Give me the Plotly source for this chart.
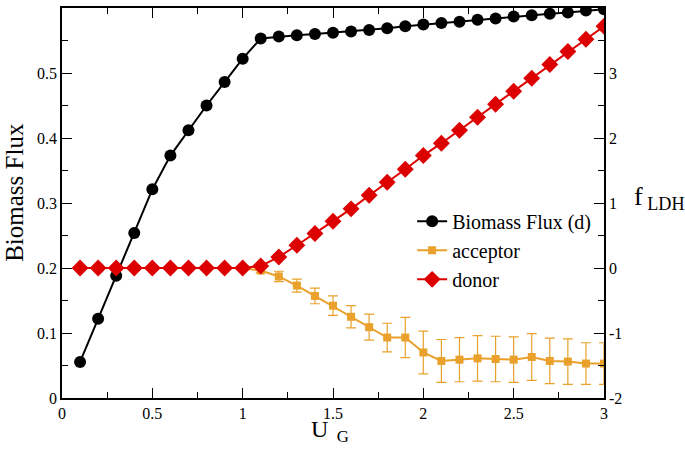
import plotly.graph_objects as go

u_g = [0.1, 0.2, 0.3, 0.4, 0.5, 0.6, 0.7, 0.8, 0.9, 1.0,
       1.1, 1.2, 1.3, 1.4, 1.5, 1.6, 1.7, 1.8, 1.9, 2.0,
       2.1, 2.2, 2.3, 2.4, 2.5, 2.6, 2.7, 2.8, 2.9, 3.0]

biomass = [0.0555, 0.122, 0.188, 0.254, 0.321, 0.373, 0.412, 0.450, 0.486, 0.522,
           0.553, 0.556, 0.558, 0.560, 0.562, 0.564, 0.566, 0.569, 0.572, 0.5745,
           0.577, 0.579, 0.582, 0.584, 0.587, 0.589, 0.591, 0.593, 0.596, 0.598]

donor = [0, 0, 0, 0, 0, 0, 0, 0, 0, 0,
         0.03, 0.17, 0.35, 0.53, 0.72, 0.91, 1.12, 1.32, 1.52, 1.73,
         1.92, 2.12, 2.32, 2.52, 2.72, 2.92, 3.13, 3.33, 3.52, 3.72]

acceptor = [0, 0, 0, 0, 0, 0, 0, 0, 0, 0,
            -0.04, -0.13, -0.27, -0.43, -0.58, -0.75, -0.91, -1.07, -1.07, -1.30,
            -1.43, -1.41, -1.39, -1.40, -1.41, -1.37, -1.43, -1.44, -1.47, -1.47]

acceptor_err = [0, 0, 0, 0, 0, 0, 0, 0, 0, 0,
                0.03, 0.08, 0.10, 0.12, 0.15, 0.17, 0.20, 0.22, 0.31, 0.33,
                0.33, 0.34, 0.35, 0.35, 0.35, 0.36, 0.35, 0.35, 0.32, 0.32]

x_ticks = [0, 0.5, 1, 1.5, 2, 2.5, 3]
x_ticklabels = ["0", "0.5", "1", "1.5", "2", "2.5", "3"]
left_ticks = [0, 0.1, 0.2, 0.3, 0.4, 0.5]
left_ticklabels = ["0", "0.1", "0.2", "0.3", "0.4", "0.5"]
right_ticks = [-2, -1, 0, 1, 2, 3, 4]
right_ticklabels = ["-2", "-1", "0", "1", "2", "3", "4"]

BLACK = "#000000"
ORANGE = "#e9a12c"
RED = "#dc0000"
FONT = "'Liberation Serif', 'Times New Roman', 'DejaVu Serif', serif"

fig = go.Figure()

fig.add_trace(go.Scatter(
    x=u_g, y=acceptor, yaxis="y2", name="acceptor", mode="lines+markers",
    line=dict(color=ORANGE, width=2),
    marker=dict(symbol="square", size=8, color=ORANGE),
    error_y=dict(type="data", array=acceptor_err, color=ORANGE, thickness=1.2, width=5),
    legendrank=2,
))
fig.add_trace(go.Scatter(
    x=u_g, y=donor, yaxis="y2", name="donor", mode="lines+markers",
    line=dict(color=RED, width=2),
    marker=dict(symbol="diamond", size=13, color=RED),
    legendrank=3,
))
fig.add_trace(go.Scatter(
    x=u_g, y=biomass, yaxis="y", name="Biomass Flux (d)", mode="lines+markers",
    line=dict(color=BLACK, width=2),
    marker=dict(symbol="circle", size=12, color=BLACK),
    legendrank=1,
))

axis_common = dict(
    showline=True, linecolor="black", linewidth=1.5,
    ticks="inside", tickcolor="black", tickwidth=1.2, ticklen=10,
    showgrid=False, zeroline=False,
    tickfont=dict(family=FONT, size=16, color="black"),
)

fig.update_layout(
    width=685, height=450,
    margin=dict(l=62, r=81, t=6, b=52),
    paper_bgcolor="white", plot_bgcolor="white",
    font=dict(family=FONT, color="black"),
    xaxis=dict(
        range=[0, 3], tickvals=x_ticks, ticktext=x_ticklabels, mirror="ticks",
        minor=dict(ticks="inside", ticklen=6, tickwidth=1.2, tickcolor="black", dtick=0.25),
        **axis_common,
    ),
    yaxis=dict(
        range=[0, 0.6], tickvals=left_ticks, ticktext=left_ticklabels,
        minor=dict(ticks="inside", ticklen=6, tickwidth=1.2, tickcolor="black", dtick=0.05),
        **axis_common,
    ),
    yaxis2=dict(
        range=[-2, 4], tickvals=right_ticks, ticktext=right_ticklabels,
        overlaying="y", side="right",
        minor=dict(ticks="inside", ticklen=6, tickwidth=1.2, tickcolor="black", dtick=0.5),
        **axis_common,
    ),
    showlegend=True,
    legend=dict(
        x=0.646, y=0.503, xanchor="left", yanchor="top",
        bgcolor="rgba(0,0,0,0)", borderwidth=0,
        font=dict(family=FONT, size=20, color="black"),
        tracegroupgap=0, itemwidth=30,
    ),
    annotations=[
        dict(text="Biomass Flux", xref="paper", yref="paper", x=-0.089, y=0.528,
             textangle=-90, showarrow=False, xanchor="center", yanchor="middle",
             font=dict(family=FONT, size=25, color="black")),
        dict(text="U<sub>  G</sub>", xref="paper", yref="paper", x=0.4945, y=-0.041,
             showarrow=False, xanchor="center", yanchor="top",
             font=dict(family=FONT, size=24, color="black")),
        dict(text="f<sub> LDH</sub>", xref="paper", yref="paper", x=1.051, y=0.513,
             showarrow=False, xanchor="left", yanchor="middle",
             font=dict(family=FONT, size=26, color="black")),
    ],
)

fig.write_html("out.html", config={"displayModeBar": False},
               post_script="document.body.style.margin='0';")
